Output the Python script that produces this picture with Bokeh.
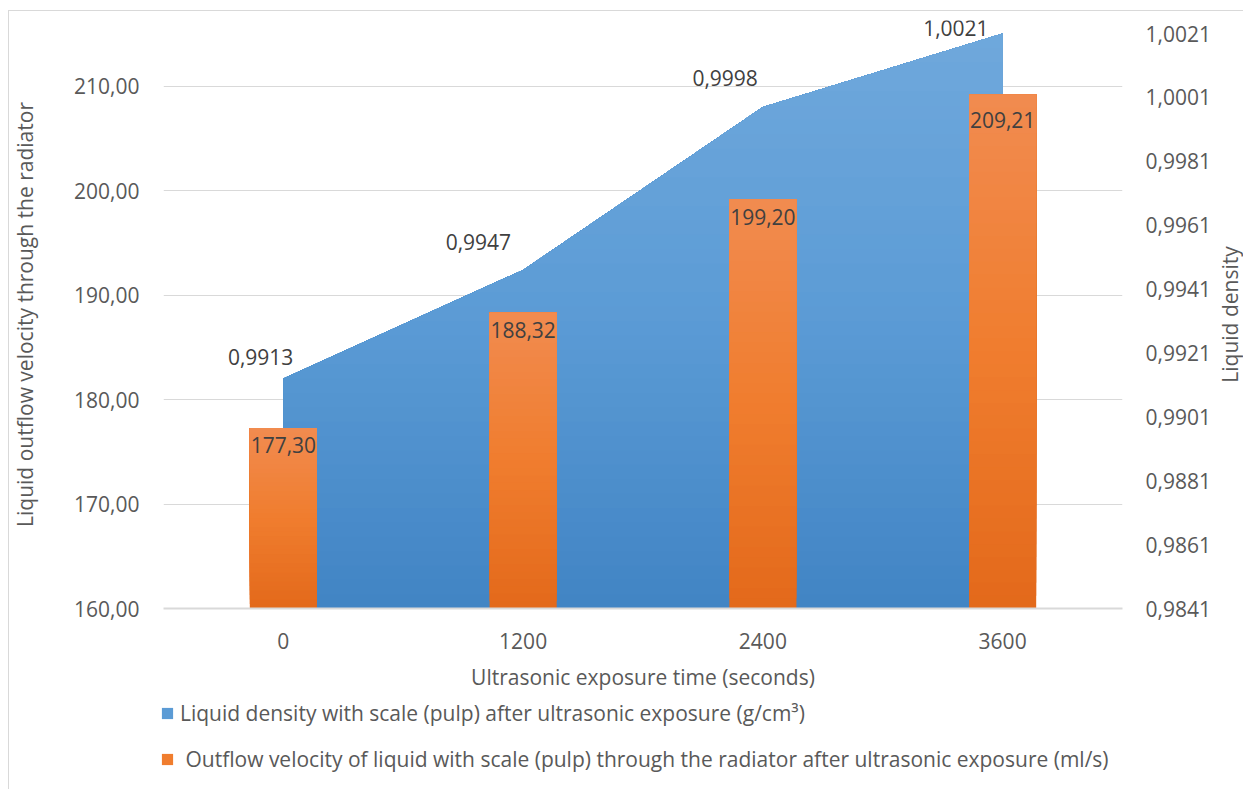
from bokeh.plotting import figure
from bokeh.layouts import column, row
from bokeh.models import (Range1d, LinearAxis, FixedTicker, CustomJSTickFormatter,
                          Legend, LegendItem, Label)
from bokeh.core.properties import value
from bokeh.embed import file_html
from bokeh.resources import INLINE
import math

# ---------------- data ----------------
times = ["0", "1200", "2400", "3600"]
density = [0.9913, 0.9947, 0.9998, 1.0021]
velocity = [177.30, 188.32, 199.20, 209.21]
density_labels = ["0,9913", "0,9947", "0,9998", "1,0021"]
velocity_labels = ["177,30", "188,32", "199,20", "209,21"]
left_ticks = [160, 170, 180, 190, 200, 210]
right_ticks = [0.9841, 0.9861, 0.9881, 0.9901, 0.9921, 0.9941, 0.9961, 0.9981, 1.0001, 1.0021]
series_names = ["Liquid density with scale (pulp) after ultrasonic exposure (g/cm³)",
                " Outflow velocity of liquid with scale (pulp) through the radiator after ultrasonic exposure (ml/s)"]
x_title = "Ultrasonic exposure time (seconds)"
y_title = "Liquid outflow velocity through the radiator"
y2_title = "Liquid density"

# ---------------- style ----------------
FONT = "Open Sans"
TICK_COLOR = "#595959"
LABEL_COLOR = "#404040"
GRID = "#D9D9D9"
AREA_TOP, AREA_MID, AREA_BOT = (111, 168, 220), (91, 155, 213), (65, 132, 196)
BAR_TOP, BAR_MID, BAR_BOT = (241, 139, 80), (240, 125, 46), (227, 105, 27)
N_BANDS = 40
BAR_WIDTH = 0.28
dens_dx = [10, -12, -5, -14]
dens_dy = [-22, -28, -29, -6]
bar_dy = [9, 9, 10, 17]

L_MIN, L_MAX = 160, 216.32
R_MIN, R_MAX = 0.9841, 1.002507

MAIN_W, RIGHT_W = 1213, 30
TOP_H, LEG_H = 696, 93


def lerp3(top, mid, bot, f):
    if f < 0.5:
        a, b, t = bot, mid, f / 0.5
    else:
        a, b, t = mid, top, (f - 0.5) / 0.5
    return "#%02x%02x%02x" % tuple(int(round(a[i] + (b[i] - a[i]) * t)) for i in range(3))


xs = list(range(len(times)))

p = figure(width=MAIN_W, height=TOP_H, output_backend="svg", toolbar_location=None,
           x_range=Range1d(-0.5, len(times) - 0.5), y_range=Range1d(L_MIN, L_MAX),
           min_border_left=163, min_border_right=90, min_border_top=20, min_border_bottom=88)
p.extra_y_ranges = {"density": Range1d(R_MIN, R_MAX)}
p.outline_line_color = None
p.background_fill_color = "white"
p.border_fill_color = None
p.frame_align = False

# ---------------- area with vertical gradient ----------------
def clip_above(xv, yv, lo):
    ox, oy = [], []
    for i in range(len(xv)):
        if i > 0:
            y0, y1 = yv[i - 1], yv[i]
            if (y0 - lo) * (y1 - lo) < 0:
                t = (lo - y0) / (y1 - y0)
                ox.append(xv[i - 1] + t * (xv[i] - xv[i - 1]))
                oy.append(lo)
        ox.append(xv[i])
        oy.append(max(yv[i], lo))
    return ox, oy

area_top = max(density)
for k in range(N_BANDS):
    lo = R_MIN + (area_top - R_MIN) * k / N_BANDS
    f = (k + 0.5) / N_BANDS
    ox, oy = clip_above(xs, density, lo)
    p.varea(x=ox, y1=[lo] * len(ox), y2=oy, fill_color=lerp3(AREA_TOP, AREA_MID, AREA_BOT, f),
            y_range_name="density")

# ---------------- bars with vertical gradient ----------------
for k in range(N_BANDS):
    bottoms = [L_MIN + (v - L_MIN) * k / N_BANDS for v in velocity]
    f = (k + 0.5) / N_BANDS
    p.vbar(x=xs, bottom=bottoms, top=velocity, width=BAR_WIDTH,
           fill_color=lerp3(BAR_TOP, BAR_MID, BAR_BOT, f), line_color=None)

# ---------------- data labels ----------------
p.text(x=xs, y=density, text=density_labels, y_range_name="density",
       x_offset=dens_dx, y_offset=dens_dy, text_align="right", text_baseline="alphabetic",
       text_font=value(FONT), text_font_size="21px", text_color=LABEL_COLOR)
p.text(x=xs, y=velocity, text=velocity_labels, y_offset=bar_dy,
       text_align="center", text_baseline="top",
       text_font=value(FONT), text_font_size="21px", text_color=LABEL_COLOR)

# ---------------- axes ----------------
p.xaxis.ticker = FixedTicker(ticks=xs)
p.xaxis.major_label_overrides = {i: t for i, t in enumerate(times)}
p.xaxis.axis_line_color = GRID
p.xaxis.axis_line_width = 2
p.xaxis.major_tick_line_color = None
p.xaxis.minor_tick_line_color = None
p.xaxis.major_label_standoff = 18
p.xaxis.major_label_text_font = FONT
p.xaxis.major_label_text_font_size = "21px"
p.xaxis.major_label_text_color = TICK_COLOR
p.xaxis.axis_label = x_title
p.xaxis.axis_label_standoff = 11
p.xaxis.axis_label_text_font = FONT
p.xaxis.axis_label_text_font_size = "21px"
p.xaxis.axis_label_text_font_style = "normal"
p.xaxis.axis_label_text_color = TICK_COLOR

p.yaxis.ticker = FixedTicker(ticks=left_ticks)
p.yaxis.formatter = CustomJSTickFormatter(code="return tick.toFixed(2).replace('.', ',');")
p.yaxis.axis_line_color = None
p.yaxis.major_tick_line_color = None
p.yaxis.minor_tick_line_color = None
p.yaxis.major_label_standoff = 18
p.yaxis.major_label_text_font = FONT
p.yaxis.major_label_text_font_size = "21px"
p.yaxis.major_label_text_color = TICK_COLOR
p.yaxis.axis_label = y_title
p.yaxis.axis_label_standoff = 32
p.yaxis.axis_label_text_font = FONT
p.yaxis.axis_label_text_font_size = "21px"
p.yaxis.axis_label_text_font_style = "normal"
p.yaxis.axis_label_text_color = TICK_COLOR

p.xgrid.visible = False
p.ygrid.ticker = FixedTicker(ticks=left_ticks)
p.ygrid.grid_line_color = GRID
p.ygrid.grid_line_width = 1

ax2 = LinearAxis(y_range_name="density", ticker=FixedTicker(ticks=right_ticks),
                 formatter=CustomJSTickFormatter(code="return tick.toFixed(4).replace('.', ',');"))
ax2.axis_line_color = None
ax2.major_tick_line_color = None
ax2.minor_tick_line_color = None
ax2.major_label_standoff = 17
ax2.major_label_text_font = FONT
ax2.major_label_text_font_size = "21px"
ax2.major_label_text_color = TICK_COLOR
p.add_layout(ax2, "right")

# ---------------- legend (separate strip below the chart) ----------------
lg = figure(width=MAIN_W, height=LEG_H, output_backend="svg", toolbar_location=None,
            x_range=Range1d(0, 1), y_range=Range1d(0, 1),
            x_axis_location=None, y_axis_location=None, min_border=0)
lg.frame_align = False
lg.grid.visible = False
lg.outline_line_color = None
lg.background_fill_color = None
lg.border_fill_color = None
nan = float("nan")
r_area = lg.varea(x=[nan], y1=[nan], y2=[nan], fill_color=lerp3(AREA_TOP, AREA_MID, AREA_BOT, 0.5))
r_bar = lg.vbar(x=[nan], top=[nan], width=0.5, fill_color=lerp3(BAR_TOP, BAR_MID, BAR_BOT, 0.5),
                line_color=None)
legend = Legend(items=[LegendItem(label=series_names[0], renderers=[r_area]),
                       LegendItem(label=series_names[1], renderers=[r_bar])],
                location=(160, 16), orientation="vertical",
                glyph_width=14, glyph_height=14, label_height=14, spacing=18,
                padding=0, margin=0, border_line_color=None, background_fill_alpha=0,
                label_text_font=FONT, label_text_font_size="21px", label_text_color=TICK_COLOR,
                label_standoff=6)
lg.add_layout(legend)

# ---------------- right-hand axis title strip ----------------
rt = figure(width=RIGHT_W, height=TOP_H + LEG_H, output_backend="svg", toolbar_location=None,
            x_range=Range1d(0, 1), y_range=Range1d(0, 1),
            x_axis_location=None, y_axis_location=None, min_border=0)
rt.frame_align = False
rt.grid.visible = False
rt.outline_line_color = None
rt.background_fill_color = None
rt.border_fill_color = None
rt.add_layout(Label(x=16, y=TOP_H + LEG_H - 314, x_units="screen", y_units="screen",
                    text=y2_title, angle=math.pi / 2, text_align="center", text_baseline="middle",
                    text_font=FONT, text_font_size="21px", text_color=TICK_COLOR))

layout = row(column(p, lg, spacing=0), rt, spacing=0)
layout.styles = {
    "background-color": "white",
    "background-image": "linear-gradient(#D9D9D9,#D9D9D9), linear-gradient(#D9D9D9,#D9D9D9)",
    "background-position": "8px 10px, 8px 10px",
    "background-size": "1px 100%, 100% 1px",
    "background-repeat": "no-repeat",
}

open("out.html", "w").write(file_html(layout, INLINE))
